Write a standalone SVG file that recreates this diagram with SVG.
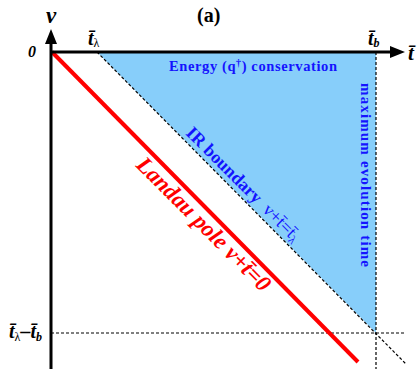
<svg xmlns="http://www.w3.org/2000/svg" width="420" height="369" viewBox="0 0 420 369">
<style>
.ax{stroke:#000;stroke-width:3;fill:none}
.dash{stroke:#000;stroke-width:1.2;stroke-dasharray:3,2;fill:none}
.lbl{font-family:"Liberation Serif",serif;font-weight:bold;font-style:italic;fill:#000}
.ttl{font-family:"Liberation Serif",serif;font-weight:bold;fill:#000}
.blue{font-family:"Liberation Serif",serif;font-weight:bold;fill:#1414ff}
.red{font-family:"Liberation Serif",serif;font-weight:bold;font-style:italic;fill:#ff0000}
.sub{font-style:normal;font-weight:normal}
</style>
<rect width="420" height="369" fill="#fff"/>
<g id="region">
<polygon points="97,52 376,52 376,333" fill="#87cefa"/>
</g>
<g id="connectors">
<line class="dash" x1="97" y1="52" x2="406" y2="364"/>
<line class="dash" x1="376" y1="52" x2="376" y2="369"/>
<line class="dash" x1="51" y1="333" x2="404" y2="333"/>
<line x1="52" y1="52" x2="358" y2="362" stroke="#ff0000" stroke-width="4"/>
</g>
<g id="axes">
<line class="ax" x1="51" y1="40" x2="51" y2="369"/>
<polygon points="51,29 45,44 57,44" fill="#000"/>
<line class="ax" x1="51" y1="52" x2="392" y2="52"/>
<polygon points="405,52 390,46 390,58" fill="#000"/>
</g>
<g id="labels">
<text class="lbl" x="46" y="23" font-size="23">v</text>
<text class="lbl" x="28" y="57" font-size="16">0</text>
<text class="ttl" x="197" y="22" font-size="20">(a)</text>
<text class="lbl" x="88" y="45" font-size="20">t̄<tspan class="sub" font-size="12" dy="2">λ</tspan></text>
<text class="lbl" x="368" y="45" font-size="20">t̄<tspan font-size="12" dy="2">b</tspan></text>
<text class="lbl" x="408" y="60" font-size="21">t̄</text>
<text class="lbl" x="9" y="338" font-size="20">t̄<tspan class="sub" font-size="12" dy="3">λ</tspan><tspan dy="-3">–t̄</tspan><tspan font-size="12" dy="3">b</tspan></text>
</g>
<g id="energy">
<text class="blue" x="169" y="71" font-size="14.5" textLength="168" lengthAdjust="spacing">Energy (q<tspan font-size="10" dy="-5">†</tspan><tspan dy="5">) conservation</tspan></text>
</g>
<g id="maxtime">
<text class="blue" transform="translate(361,83) rotate(90)" font-size="15" textLength="184" lengthAdjust="spacing">maximum evolution time</text>
</g>
<g id="ir">
<text class="blue" transform="translate(185,134) rotate(45)" font-size="18">IR boundary<tspan font-weight="normal" dx="9">v+t̄=t̄</tspan><tspan font-weight="normal" font-size="12" dy="3">λ</tspan></text>
</g>
<g id="landau">
<text class="red" transform="translate(135,166) rotate(45)" font-size="23">Landau pole v+t̄=0</text>
</g>
</svg>
